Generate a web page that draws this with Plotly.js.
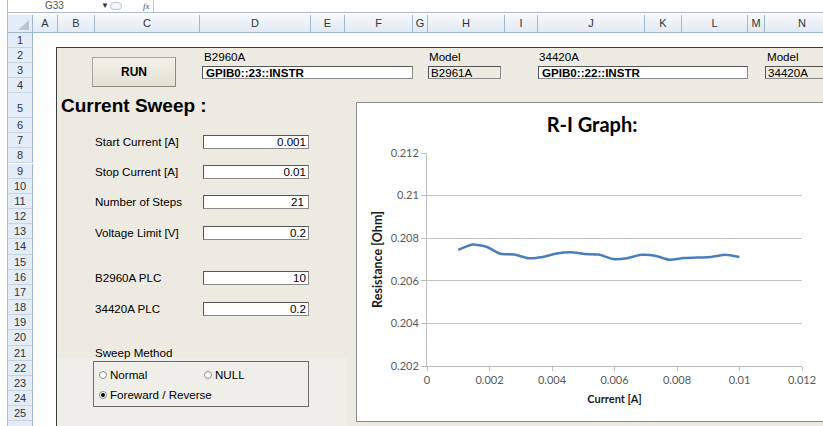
<!DOCTYPE html>
<html><head><meta charset="utf-8">
<script src="https://cdn.plot.ly/plotly-3.0.1.min.js"></script>
<style>
body{margin:0;width:823px;height:426px;overflow:hidden;position:relative;background:#fff;font-family:"Liberation Sans",Arial,sans-serif;}
.a{position:absolute;box-sizing:border-box;}
.colh{position:absolute;top:15px;height:18px;box-sizing:border-box;border-right:1px solid #9eb6ce;border-bottom:1px solid #9eb6ce;background:linear-gradient(#f6f9fc,#e2e9f3);font-size:11px;color:#333;text-align:center;line-height:17px;}
.rowh{position:absolute;left:8px;width:25px;box-sizing:border-box;border-bottom:1px solid #c5d3e3;border-right:1px solid #9eb6ce;background:#e4ecf7;font-size:11px;color:#333;text-align:center;}
.lbl{position:absolute;font-size:11.6px;color:#000;line-height:14px;}
.box{position:absolute;box-sizing:border-box;background:#fff;border:1px solid #8a8a8a;border-top-color:#555;border-left-color:#555;font-size:11.6px;line-height:12px;color:#000;}
.radio{position:absolute;width:6px;height:6px;border-radius:50%;border:1px solid #8b8b8b;background:#fff;box-sizing:content-box;}
</style></head><body>
<!-- formula bar -->
<div class="a" style="left:0;top:0;width:823px;height:13px;background:#fff;border-bottom:1px solid #a9bcd3;"></div>
<div class="a" style="left:0;top:0;width:8px;height:426px;background:#fff;border-right:1px solid #a9bcd3;"></div>
<div class="a" style="left:45px;top:0px;font-size:10px;color:#555;line-height:12px;">G33</div>
<div class="a" style="left:101px;top:0px;font-size:8px;color:#333;line-height:12px;">▼</div>
<div class="a" style="left:110px;top:2px;width:12px;height:8px;border:1px solid #b9c6d6;border-radius:5px;background:#f4f6f9;"></div>
<div class="a" style="left:143px;top:0px;font-size:9px;color:#555;font-style:italic;line-height:12px;font-family:'Liberation Serif',serif;">fx</div>
<div class="a" style="left:153px;top:0;width:670px;height:13px;border-left:1px solid #b9c6d6;"></div>
<!-- corner -->
<div class="a" style="left:8px;top:15px;width:25px;height:18px;background:#e4ecf7;border-right:1px solid #9eb6ce;border-bottom:1px solid #9eb6ce;"></div>
<div class="a" style="left:18px;top:20px;width:0;height:0;border-left:11px solid transparent;border-bottom:10px solid #b8c6d8;"></div>
<div id="cols"></div>
<div id="rows"></div>
<!-- panel -->
<div class="a" style="left:56px;top:47px;width:780px;height:400px;background:#eceae1;border-top:1px solid #3c3c3c;border-left:1px solid #3c3c3c;"></div>
<div class="a" style="left:57px;top:358px;width:290px;height:70px;background:#efeee8;"></div>
<!-- top controls -->
<div class="a" style="left:92px;top:57px;width:84px;height:30px;background:linear-gradient(#f3f1ea,#e4e0d3);border:1px solid #a8a496;border-right-color:#8e8a7e;border-bottom-color:#8e8a7e;font-weight:bold;font-size:12px;text-align:center;line-height:28px;">RUN</div>
<div class="lbl" style="left:204px;top:50px;">B2960A</div>
<div class="box" style="left:202px;top:66px;width:211px;height:13px;font-weight:bold;padding-left:3px;">GPIB0::23::INSTR</div>
<div class="lbl" style="left:429px;top:50px;">Model</div>
<div class="box" style="left:428px;top:66px;width:73px;height:13px;background:#eceae1;padding-left:2px;">B2961A</div>
<div class="lbl" style="left:539px;top:50px;">34420A</div>
<div class="box" style="left:538px;top:66px;width:210px;height:13px;font-weight:bold;padding-left:3px;">GPIB0::22::INSTR</div>
<div class="lbl" style="left:767px;top:50px;">Model</div>
<div class="box" style="left:765px;top:66px;width:70px;height:13px;background:#eceae1;padding-left:2px;">34420A</div>
<!-- sweep params -->
<div class="a" style="left:61px;top:95px;font-size:19px;font-weight:bold;line-height:22px;">Current Sweep :</div>
<div class="lbl" style="left:95px;top:135px;">Start Current [A]</div>
<div class="box" style="left:203px;top:135px;width:106px;height:14px;text-align:right;padding-right:2px;">0.001</div>
<div class="lbl" style="left:95px;top:165px;">Stop Current [A]</div>
<div class="box" style="left:203px;top:165px;width:106px;height:14px;text-align:right;padding-right:2px;">0.01</div>
<div class="lbl" style="left:95px;top:195px;">Number of Steps</div>
<div class="box" style="left:203px;top:195px;width:106px;height:14px;text-align:right;padding-right:4px;">21</div>
<div class="lbl" style="left:95px;top:226px;">Voltage Limit [V]</div>
<div class="box" style="left:203px;top:226px;width:106px;height:14px;text-align:right;padding-right:2px;">0.2</div>
<div class="lbl" style="left:95px;top:271px;">B2960A PLC</div>
<div class="box" style="left:203px;top:271px;width:106px;height:14px;text-align:right;padding-right:2px;">10</div>
<div class="lbl" style="left:95px;top:302px;">34420A PLC</div>
<div class="box" style="left:203px;top:302px;width:106px;height:14px;text-align:right;padding-right:2px;">0.2</div>
<!-- sweep method -->
<div class="lbl" style="left:95px;top:346px;">Sweep Method</div>
<div class="a" style="left:93px;top:361px;width:216px;height:46px;border:1px solid #6e6e6e;"></div>
<div class="radio" style="left:99px;top:371px;"></div>
<div class="lbl" style="left:110px;top:368px;">Normal</div>
<div class="radio" style="left:204px;top:371px;"></div>
<div class="lbl" style="left:215px;top:368px;">NULL</div>
<div class="radio" style="left:99px;top:391px;"></div>
<div class="a" style="left:101px;top:393px;width:4px;height:4px;border-radius:50%;background:#000;"></div>
<div class="lbl" style="left:110px;top:388px;">Foreward / Reverse</div>
<!-- chart -->
<div class="a" style="left:356px;top:102px;width:472px;height:320px;border:1px solid #8c8c8c;background:#fff;">
  <div id="chart" style="width:470px;height:318px;"></div>
</div>
<script>
// spreadsheet headers
const colLetters = ['A','B','C','D','E','F','G','H','I','J','K','L','M','N'];
const colEdges = [33,58,95,200,311,345,413,428,505,538,645,682,748,765,840];
const rowLabels = ['1','2','3','4','5','6','7','8','9','10','11','12','13','14','15','16','17','18','19','20','21','22','23','24','25'];
let ch='';
colLetters.forEach((c,i)=>{ch+=`<div class="colh" style="left:${colEdges[i]}px;width:${colEdges[i+1]-colEdges[i]}px;">${c}</div>`;});
document.getElementById('cols').innerHTML=ch;
let rh='', y=33;
rowLabels.forEach((r,i)=>{const h = i<4?15:(i===4?25:15.17);
  rh+=`<div class="rowh" style="top:${y}px;height:${h}px;line-height:${i===4?30:h}px;">${r}</div>`; y+=h;});
rh+=`<div class="rowh" style="top:${y}px;height:10px;"></div>`;
document.getElementById('rows').innerHTML=rh;

// chart data
const current = [0.001,0.00145,0.0019,0.00235,0.0028,0.00325,0.0037,0.00415,0.0046,0.00505,0.0055,0.00595,0.0064,0.00685,0.0073,0.00775,0.0082,0.00865,0.0091,0.00955,0.01];
const resistance = [0.20745,0.20770,0.20760,0.20727,0.20723,0.20706,0.20712,0.20728,0.20734,0.20726,0.20723,0.20702,0.20706,0.20722,0.20718,0.20699,0.20707,0.20709,0.20712,0.20722,0.20712];
const xTickVals = [0,0.002,0.004,0.006,0.008,0.01,0.012];
const xTickText = ['0','0.002','0.004','0.006','0.008','0.01','0.012'];
const yTickVals = [0.202,0.204,0.206,0.208,0.21,0.212];
const yTickText = ['0.202','0.204','0.206','0.208','0.21','0.212'];

const trace = {x:current, y:resistance, type:'scatter', mode:'lines',
  line:{color:'#4a7ebb', width:2.5, shape:'spline', smoothing:0.5}, hoverinfo:'x+y'};
const layout = {
  width:470, height:318, margin:{l:70,r:25,t:50,b:55},
  paper_bgcolor:'#fff', plot_bgcolor:'#fff', showlegend:false,
  font:{family:'Lato, "Open Sans", sans-serif', size:11, color:'#595959'},
  title:{text:'<b>R-I Graph:</b>', font:{family:'Lato, "Open Sans", sans-serif', size:20, color:'#000'},
    x:0.5, xref:'container', xanchor:'center', y:0.93, yref:'container', yanchor:'middle'},
  xaxis:{range:[0,0.012], tickvals:xTickVals, ticktext:xTickText, showgrid:false, zeroline:false,
    showline:true, linecolor:'#bcbcbc', linewidth:1, ticks:'outside', ticklen:4, tickcolor:'#bcbcbc',
    tickfont:{size:11,color:'#595959'},
    title:{text:'<b>Current [A]</b>', font:{size:11,color:'#1a1a1a'}, standoff:10}},
  yaxis:{range:[0.202,0.212], tickvals:yTickVals, ticktext:yTickText, showgrid:true, gridcolor:'#c4c4c4', gridwidth:1,
    zeroline:false, showline:true, linecolor:'#bcbcbc', linewidth:1, ticks:'outside', ticklen:5, tickcolor:'#bcbcbc',
    tickfont:{size:11,color:'#595959'},
    title:{text:'<b>Resistance [Ohm]</b>', font:{size:12.5,color:'#1a1a1a'}, standoff:5}}
};
Plotly.newPlot('chart',[trace],layout,{displayModeBar:false,staticPlot:true});
</script>
</body></html>
